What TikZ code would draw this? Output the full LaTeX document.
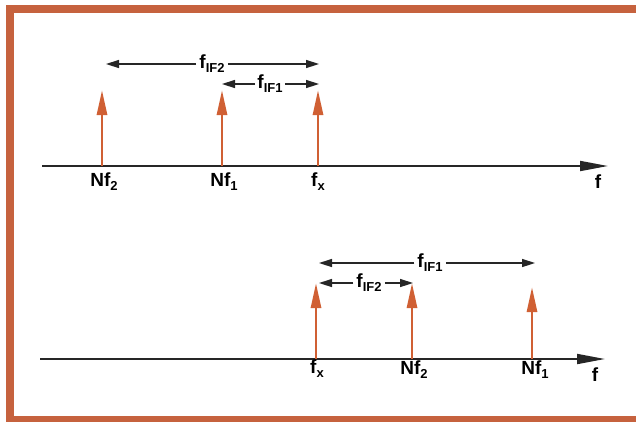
\documentclass[tikz,border=0pt]{standalone}
\usepackage{fontspec}
\setmainfont{Liberation Sans}
\usetikzlibrary{arrows.meta}
\definecolor{frameorange}{RGB}{198,98,62}
\definecolor{lineorange}{RGB}{208,96,52}
\newcommand{\lowsub}[1]{\raisebox{-4pt}{\fontsize{13}{13}\selectfont #1}}

\begin{document}
\begin{tikzpicture}[x=1pt, y=-1pt, font=\fontsize{19}{19}\selectfont\bfseries,
  axis/.style={black!85, line width=1.8pt, -{Triangle[length=28pt,width=10pt]}},
  spike/.style={lineorange, line width=2.8pt, -{Triangle[length=25pt,width=10pt]}},
  span/.style={black!85, line width=1.5pt, -{Triangle[length=13pt,width=8pt]}},
  lbl/.style={anchor=base, inner sep=1pt},
  spanlbl/.style={inner sep=3pt}]
\clip (0,0) rectangle (636,421);
\draw[frameorange, line width=8pt] (10,9) rectangle (640,420);

% upper spectrum: Nf2 < Nf1 < fx
\draw[axis] (42,166) -- (608,166);
\foreach \x in {102,222,318} \draw[spike] (\x,166) -- (\x,90);
\node[lbl] (nf2a) at (104,186) {Nf\lowsub{2}};
\node[lbl] (nf1a) at (224,186) {Nf\lowsub{1}};
\node[lbl] (fxa) at (318,186) {f\lowsub{x}};
\node[lbl] (fa) at (598,188) {f};
\node[spanlbl] (if2a) at (212,64) {f\lowsub{IF2}};
\coordinate (if2aL) at (106,64);
\coordinate (if2aR) at (319,64);
\draw[span] (if2a) -- (if2aL);
\draw[span] (if2a) -- (if2aR);
\node[spanlbl, inner sep=2pt] (if1a) at (270,84) {f\lowsub{IF1}};
\coordinate (if1aL) at (222,84);
\coordinate (if1aR) at (319,84);
\draw[span] (if1a) -- (if1aL);
\draw[span] (if1a) -- (if1aR);

% lower spectrum: fx < Nf2 < Nf1
\draw[axis] (40,359) -- (605,359);
\foreach \x/\y in {316/283,412/283,532/287} \draw[spike] (\x,359) -- (\x,\y);
\node[lbl] (fxb) at (317,373) {f\lowsub{x}};
\node[lbl] (nf2b) at (414,374) {Nf\lowsub{2}};
\node[lbl] (nf1b) at (535,374) {Nf\lowsub{1}};
\node[lbl] (fb) at (595,381) {f};
\node[spanlbl] (if1b) at (430,263) {f\lowsub{IF1}};
\coordinate (if1bL) at (319,263);
\coordinate (if1bR) at (535,263);
\draw[span] (if1b) -- (if1bL);
\draw[span] (if1b) -- (if1bR);
\node[spanlbl] (if2b) at (369,283) {f\lowsub{IF2}};
\coordinate (if2bL) at (319,283);
\coordinate (if2bR) at (413,283);
\draw[span] (if2b) -- (if2bL);
\draw[span] (if2b) -- (if2bR);
\end{tikzpicture}
\end{document}
